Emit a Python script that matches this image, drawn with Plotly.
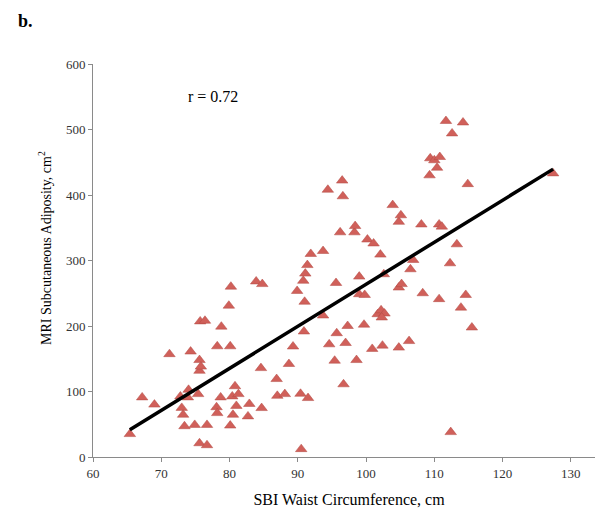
import plotly.graph_objects as go

# SBI waist circumference (cm) vs MRI subcutaneous adiposity (cm^2)
waist = [
    65.4, 67.2, 69.0, 71.2, 72.8, 73.0, 73.2, 73.4, 73.9, 74.0,
    74.3, 74.9, 75.4, 75.6, 75.6, 75.6, 75.7, 75.8, 76.4, 76.7,
    76.7, 78.1, 78.2, 78.2, 78.7, 78.8, 79.9, 80.1, 80.1, 80.2,
    80.4, 80.5, 80.8, 81.0, 81.3, 82.7, 82.9, 83.9, 84.6, 84.7,
    84.8, 86.9, 87.0, 88.1, 88.7, 89.3, 89.9, 90.4, 90.5, 90.8,
    90.9, 91.0, 91.1, 91.4, 91.5, 91.9, 93.7, 93.7, 94.4, 94.6,
    95.4, 95.6, 95.7, 96.2, 96.5, 96.6, 96.7, 97.0, 97.3, 98.3,
    98.4, 98.6, 99.0, 99.0, 99.7, 99.8, 100.2, 100.9, 101.1, 101.7,
    102.2, 102.7, 102.3, 102.1, 102.4, 102.6, 103.9, 104.8, 104.8, 104.8,
    105.1, 105.2, 106.3, 106.5, 106.9, 108.1, 108.3, 109.3, 109.4, 110.0,
    110.4, 110.7, 110.7, 110.8, 111.1, 111.7, 112.3, 112.4, 112.6, 113.3,
    113.9, 114.2, 114.6, 114.9, 115.5, 127.4,
]
adiposity = [
    35, 91, 80, 157, 92.5, 75, 64.5, 47, 91, 102.6,
    161, 49, 96, 21, 131.6, 148, 207, 138, 208, 18,
    49, 76, 67, 169, 91, 199, 231, 48, 169, 260,
    92.5, 64.5, 108, 78, 96, 62, 81, 268, 135.7, 74.7,
    264, 119, 93.4, 96, 142, 168.7, 253.5, 96.5, 12, 269,
    191.6, 237, 280, 293, 90, 310, 216, 314.5, 408, 172,
    147, 265.7, 189, 343, 422, 398, 111, 174, 200, 343,
    352.6, 148, 248.5, 275.4, 202, 247.4, 332, 165, 326, 218,
    224, 219, 213, 309, 170, 279, 384.6, 167, 258.7, 359,
    369, 264, 177, 286.6, 300.8, 355, 250, 430, 456, 453,
    441.6, 241, 355, 458, 351.7, 513, 295.7, 38, 494, 324.7,
    228, 510.7, 247.4, 416.6, 197.7, 433,
]

# linear trendline end points
trend_x = [65.4, 127.4]
trend_y = [41.6, 439.5]

x_ticks = [60, 70, 80, 90, 100, 110, 120, 130]
y_ticks = [0, 100, 200, 300, 400, 500, 600]

serif = "Liberation Serif, Times New Roman, serif"
axis_grey = "#8a8a8a"

fig = go.Figure()

fig.add_trace(go.Scatter(
    x=waist,
    y=adiposity,
    mode="markers",
    marker=dict(symbol="triangle-up", size=10, color="#D0605A",
                line=dict(color="#B24A45", width=0.5)),
    hoverinfo="x+y",
))

fig.add_trace(go.Scatter(
    x=trend_x,
    y=trend_y,
    mode="lines",
    line=dict(color="black", width=3.5),
    hoverinfo="skip",
))

fig.add_annotation(
    x=77.6, y=550, xref="x", yref="y",
    text="r = 0.72", showarrow=False,
    font=dict(family=serif, size=16, color="black"),
)

# panel letter, placed in the top-left margin
fig.add_annotation(
    x=-77 / 512, y=1 + 43 / 393, xref="paper", yref="paper",
    xanchor="left", yanchor="middle",
    text="<b>b.</b>", showarrow=False,
    font=dict(family=serif, size=18, color="black"),
)

# y-axis title as an annotation so it can sit slightly above centre
fig.add_annotation(
    x=-48 / 512, y=0.532, xref="paper", yref="paper",
    xanchor="center", yanchor="middle", textangle=-90,
    text="MRI Subcutaneous Adiposity, cm<sup>2</sup>", showarrow=False,
    font=dict(family=serif, size=14, color="black"),
)

fig.update_layout(
    width=603,
    height=510,
    margin=dict(l=85, r=6, t=56, b=61),
    plot_bgcolor="white",
    paper_bgcolor="white",
    showlegend=False,
    font=dict(family=serif, size=13, color="#333333"),
    xaxis=dict(
        range=[60, 135],
        tickvals=x_ticks,
        showgrid=False,
        zeroline=False,
        showline=True,
        linecolor=axis_grey,
        linewidth=1,
        ticks="outside",
        ticklen=4,
        tickcolor=axis_grey,
        tickfont=dict(family=serif, size=13, color="#333333"),
        title=dict(text="SBI Waist Circumference, cm",
                   font=dict(family=serif, size=16, color="black"),
                   standoff=14),
    ),
    yaxis=dict(
        range=[0, 600],
        tickvals=y_ticks,
        showgrid=False,
        zeroline=False,
        showline=True,
        linecolor=axis_grey,
        linewidth=1,
        ticks="outside",
        ticklen=4,
        tickcolor=axis_grey,
        tickfont=dict(family=serif, size=13, color="#333333"),
    ),
)

fig.write_html("out.html")
